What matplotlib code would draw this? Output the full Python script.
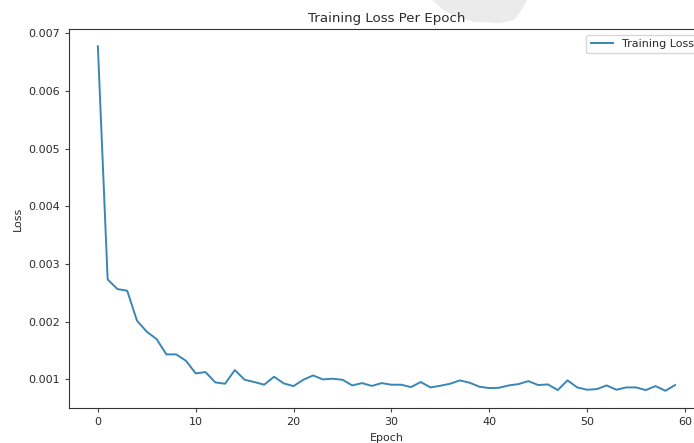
import matplotlib
matplotlib.use('Agg')
import matplotlib.pyplot as plt
from matplotlib.patches import Polygon

# Loss values (epochs 0..59)
epochs = list(range(60))
training_loss = [
    0.006777, 0.002734, 0.002566, 0.002538, 0.002017, 0.001827, 0.001700, 0.001434,
    0.001434, 0.001324, 0.001104, 0.001127, 0.000948, 0.000925, 0.001162, 0.000994,
    0.000954, 0.000908, 0.001046, 0.000931, 0.000884, 0.000994, 0.001069, 0.001000,
    0.001012, 0.000994, 0.000896, 0.000936, 0.000887, 0.000936, 0.000908, 0.000908,
    0.000867, 0.000954, 0.000861, 0.000890, 0.000925, 0.000983, 0.000942, 0.000873,
    0.000850, 0.000855, 0.000896, 0.000919, 0.000971, 0.000902, 0.000913, 0.000815,
    0.000983, 0.000861, 0.000821, 0.000832, 0.000896, 0.000821, 0.000861, 0.000861,
    0.000815, 0.000884, 0.000803, 0.000902,
]

W, H = 694, 443
text_color = '#2b2b2b'
plt.rcParams['text.color'] = text_color
plt.rcParams['axes.labelcolor'] = text_color
plt.rcParams['xtick.color'] = '#444444'
plt.rcParams['ytick.color'] = '#444444'
plt.rcParams['xtick.labelcolor'] = text_color
plt.rcParams['ytick.labelcolor'] = text_color

fig = plt.figure(figsize=(W / 100, H / 100), dpi=100)

# light grey blotch at the top of the screenshot
blob = [(432, 0), (442, 9), (456, 17), (475, 22), (500, 23), (514, 20), (521, 11), (527, 0)]
fig.patches.append(Polygon([(x / W, 1 - y / H) for x, y in blob], closed=True,
                           transform=fig.transFigure, facecolor='#ebebeb',
                           edgecolor='none', zorder=-5))

# axes runs past the right edge, like the cropped original
ax = fig.add_axes([69 / W, 35 / H, 635 / W, 379 / H])
ax.patch.set_alpha(0)
ax.spines['right'].set_visible(False)
for s in ax.spines.values():
    s.set_color('#333333')

ax.plot(epochs, training_loss, color='#3a86b4', linewidth=1.4, label='Training Loss')
ax.set_title('Training Loss Per Epoch', fontsize=9.6, pad=5)
ax.set_xlabel('Epoch', fontsize=8, labelpad=4)
ax.set_ylabel('Loss', fontsize=8)
ax.tick_params(labelsize=8, length=3)
ax.set_xticks([0, 10, 20, 30, 40, 50, 60])
ax.legend(loc='upper right', fontsize=8)

plt.savefig('out.png', dpi=100)
